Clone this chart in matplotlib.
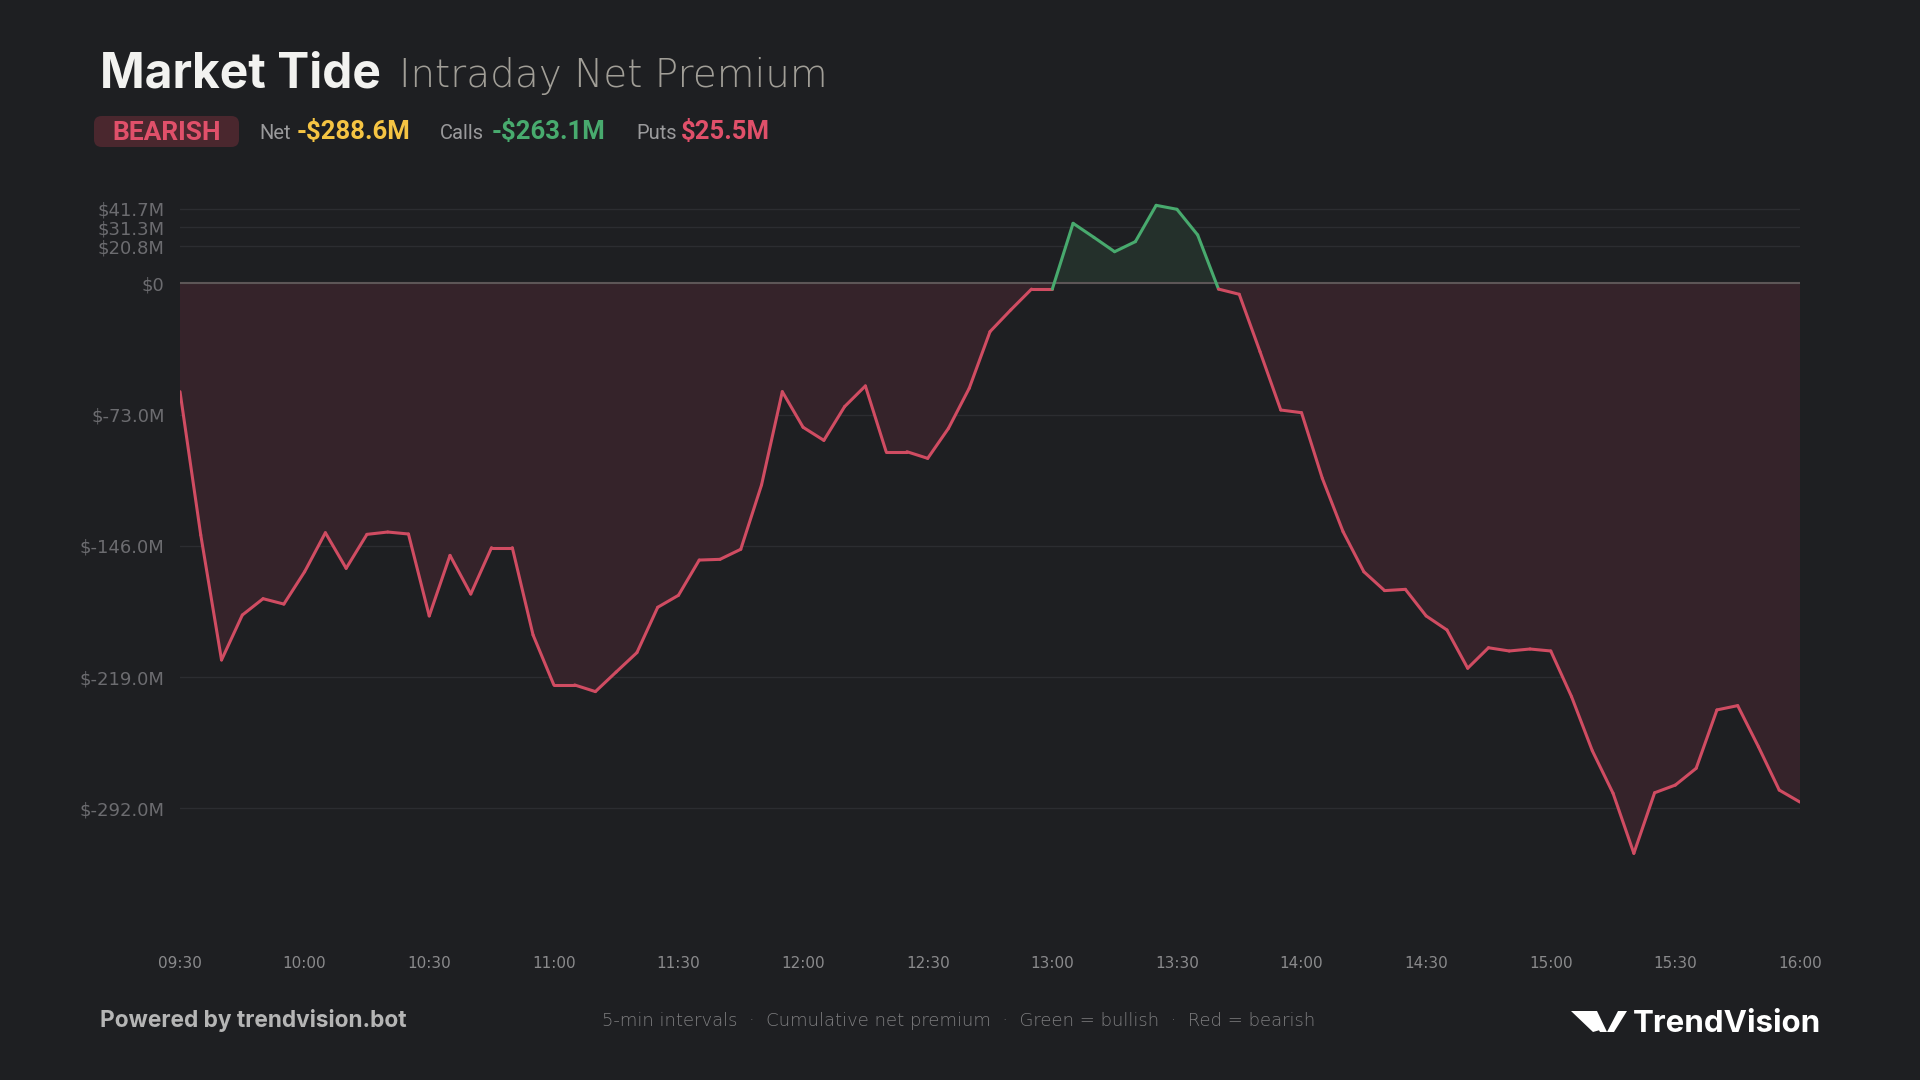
import matplotlib
matplotlib.use("Agg")
import matplotlib.pyplot as plt
import numpy as np
from matplotlib.patches import FancyBboxPatch, Polygon

# dados: premio liquido acumulado (milhoes USD), intervalos de 5 min, 09:30 -> 16:00
net_premium = [-60.2, -140.0, -209.5, -184.5, -175.4, -178.4, -160.4, -138.7, -158.5, -139.6,
               -138.3, -139.4, -185.0, -151.3, -172.8, -147.0, -147.0, -195.6, -223.4, -223.4,
               -227.1, -216.2, -205.4, -180.2, -173.5, -153.9, -153.5, -147.9, -112.1, -60.2,
               -80.0, -87.3, -68.5, -57.0, -93.6, -93.6, -97.3, -80.6, -58.3, -26.8,
               -14.7, -3.1, -3.1, 33.5, 25.7, 17.7, 23.3, 43.5, 41.3, 27.0,
               -3.1, -6.0, -37.9, -70.4, -71.9, -108.4, -138.1, -160.4, -170.9, -170.2,
               -185.0, -192.8, -214.1, -202.7, -204.5, -203.4, -204.5, -229.9, -260.0, -283.7,
               -317.1, -283.4, -279.1, -269.8, -237.3, -234.9, -257.8, -281.9, -288.6]

xtick_labels = ["09:30", "10:00", "10:30", "11:00", "11:30", "12:00", "12:30",
                "13:00", "13:30", "14:00", "14:30", "15:00", "15:30", "16:00"]
ytick_values = [41.7, 31.3, 20.8, 0, -73.0, -146.0, -219.0, -292.0]
ytick_labels = ["$41.7M", "$31.3M", "$20.8M", "$0", "$-73.0M", "$-146.0M", "$-219.0M", "$-292.0M"]

sentiment = "BEARISH"
stat_labels = ["Net", "Calls", "Puts"]
stat_values = ["-$288.6M", "-$263.1M", "$25.5M"]

# cores
BG = "#1e1f22"
RED = "#d04c62"
GREEN = "#48aa6e"
RED_FILL = "#35232a"
GREEN_FILL = "#24302b"
GRID = "#2c2d31"

W, H = 1920, 1080
def px(x, y):
    # pixel (origem topo-esquerda) -> fracao da figura
    return x / W, 1 - y / H

fig = plt.figure(figsize=(19.2, 10.8), dpi=100, facecolor=BG)

# eixo principal
left, top = px(180, 190)
right, bottom = px(1800, 920)
ax = fig.add_axes([left, bottom, right - left, top - bottom])
ax.set_facecolor(BG)

y = np.array(net_premium)
x = np.arange(len(y))

ax.fill_between(x, y, 0, where=y <= 0, interpolate=True, color=RED_FILL, lw=0, zorder=1)
ax.fill_between(x, y, 0, where=y >= 0, interpolate=True, color=GREEN_FILL, lw=0, zorder=1)

# grades
for v in ytick_values:
    if v == 0:
        ax.axhline(0, color="#5d5657", lw=1.5, zorder=2)
    else:
        ax.axhline(v, color=GRID, lw=1.0, zorder=0.5)

# linha colorida por segmento
for i in range(len(y) - 1):
    cor = GREEN if max(y[i], y[i + 1]) > 0 else RED
    ax.plot(x[i:i + 2], y[i:i + 2], color=cor, lw=2.2, zorder=3,
            solid_capstyle="round", solid_joinstyle="round")

ax.set_xlim(0, len(y) - 1)
ax.set_ylim((283.5 - 920) / 1.797, (283.5 - 190) / 1.797)

ax.set_xticks(np.arange(0, len(y), 6))
ax.set_xticklabels(xtick_labels)
ax.set_yticks(ytick_values)
ax.set_yticklabels(ytick_labels)
ax.tick_params(axis="x", length=0, pad=26, labelsize=11, labelcolor="#8a8a8c")
ax.tick_params(axis="y", length=0, pad=11, labelsize=13, labelcolor="#6c6c70")
for lbl in ax.get_xticklabels() + ax.get_yticklabels():
    lbl.set_family("DejaVu Sans")
for s in ax.spines.values():
    s.set_visible(False)

# titulo
fig.text(*px(100, 87), "Market Tide", color="#f2f2f0", fontsize=34.5, fontweight="bold",
         family="Inter", va="baseline")
fig.text(*px(399, 87), "Intraday Net Premium", color="#a19e97", fontsize=28,
         family="DejaVu Sans", fontweight="light", va="baseline")

# selo BEARISH
bx0, by0 = px(94, 147)
bx1, by1 = px(239, 116)
badge = FancyBboxPatch((bx0, by0), bx1 - bx0, by1 - by0,
                       boxstyle="round,pad=0,rounding_size=0.004",
                       mutation_aspect=W / H, transform=fig.transFigure,
                       facecolor="#4a272e", edgecolor="none")
fig.patches.append(badge)
fig.text(*px(166.5, 139.5), sentiment, color="#e0506a", fontsize=19, fontweight="bold",
         family="Roboto", ha="center", va="baseline")

# resumo
label_x = [259, 440, 636]
value_x = [297, 492, 681]
value_colors = ["#f5c443", GREEN, "#e0506a"]
for lab, lx, val, vx, vc in zip(stat_labels, label_x, stat_values, value_x, value_colors):
    fig.text(*px(lx, 139), lab, color="#9a9a9c", fontsize=14.5, family="Roboto",
             va="baseline")
    fig.text(*px(vx, 139), val, color=vc, fontsize=18.5, fontweight="bold", family="Roboto",
             va="baseline")

# rodape
fig.text(*px(100, 1027), "Powered by trendvision.bot", color="#b5b5b5", fontsize=16.3,
         fontweight="bold", family="Inter", va="baseline")
fig.text(*px(959, 1026),
         "5-min intervals  \u00b7  Cumulative net premium  \u00b7  Green = bullish  \u00b7  Red = bearish",
         color="#7e7e80", fontsize=13, family="DejaVu Sans", fontweight="light",
         ha="center", va="baseline")
fig.text(*px(1821, 1032), "TrendVision", color="white", fontsize=22.5, fontweight="bold",
         family="Inter", ha="right", va="baseline")

# marca do logo (aproximada)
logo_shapes = [
    [(1571, 1011), (1590, 1011), (1600, 1030), (1593, 1032)],
    [(1588, 1011), (1597, 1011), (1607, 1032), (1600, 1032)],
    [(1607, 1032), (1614, 1032), (1627, 1011), (1618, 1011)],
]
for shape in logo_shapes:
    fig.patches.append(Polygon([px(a, b) for a, b in shape], closed=True,
                               transform=fig.transFigure, facecolor="white",
                               edgecolor="none"))

fig.savefig("out.png", dpi=100, facecolor=BG)
